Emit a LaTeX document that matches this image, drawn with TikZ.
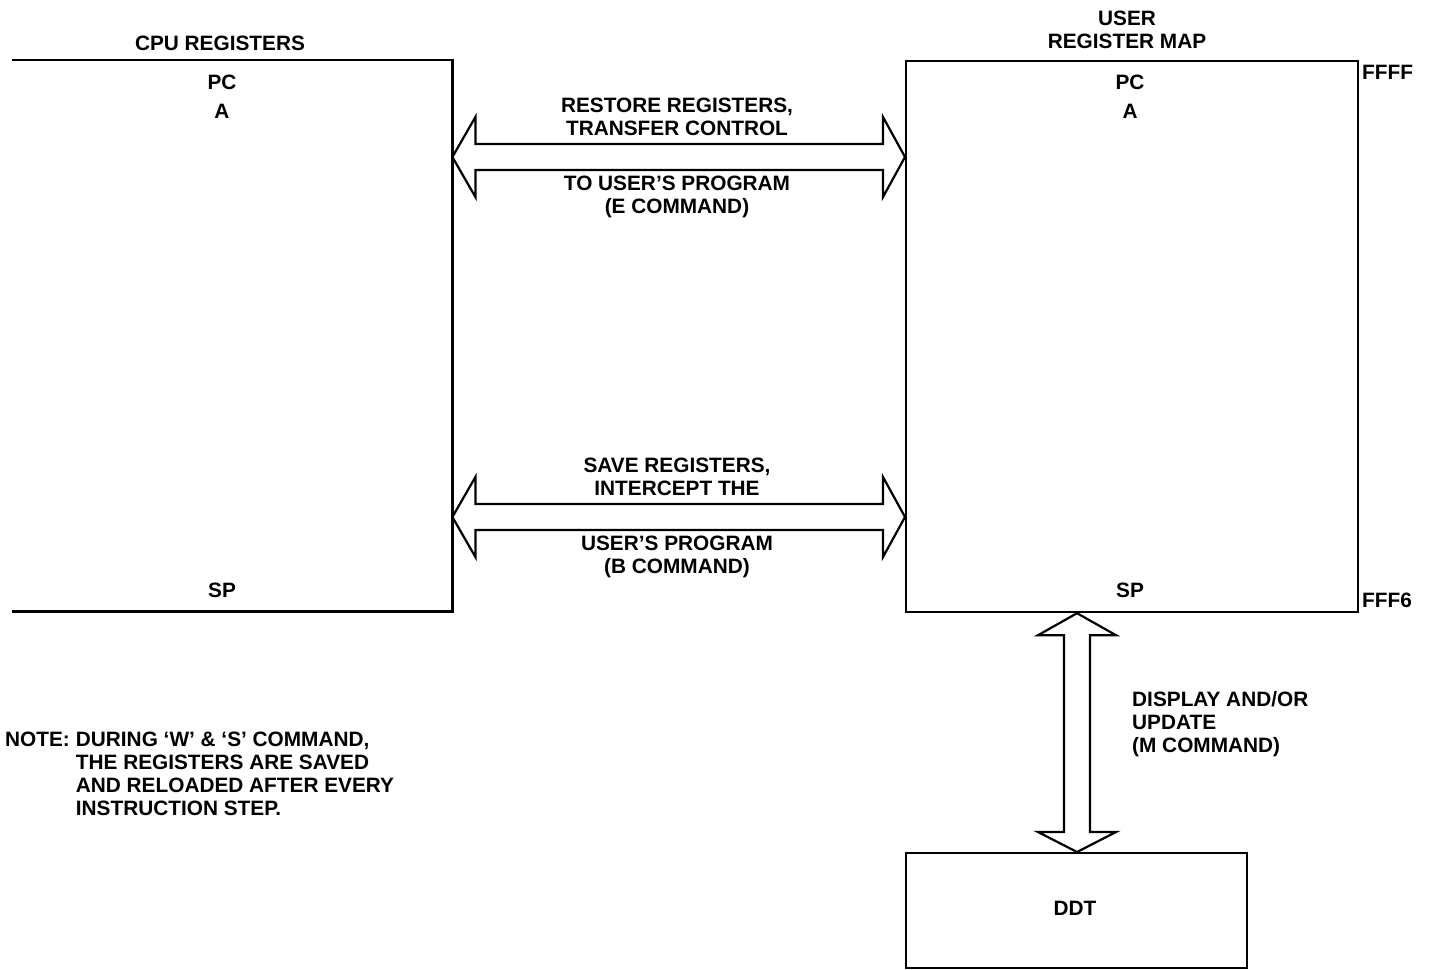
\documentclass[tikz,border=0pt]{standalone}
\usepackage{fontspec}
\setmainfont{Liberation Sans}
\usetikzlibrary{calc}
\newcommand\lblfont{\fontsize{20.8}{23}\selectfont\bfseries}
\tikzset{
  lbl/.style={font=\lblfont, align=center, inner sep=0pt},
  box/.style={draw=none, inner sep=0pt, anchor=north west},
  edge/.style={line width=2.2pt, line join=miter},
  fat/.style={line width=2.2pt, line join=miter, fill=white},
}
\begin{document}
\begin{tikzpicture}[x=1pt,y=-1pt]
\useasboundingbox (0,0) rectangle (1431,969);

% boxes
\node[box, minimum width=440pt, minimum height=551pt] (cpu) at (12,60) {};
\draw[edge] (cpu.north west) -- (cpu.north east) -- (cpu.south east) -- (cpu.south west);
\node[box, draw, edge, minimum width=452pt, minimum height=551pt] (usr) at (905,60) {};
\node[box, draw, edge, minimum width=341pt, minimum height=115pt] (ddt) at (905,852) {};

% titles and contents
\node[lbl] (cputitle) at (220,43) {CPU REGISTERS};
\node[lbl] (usrtitle) at (1127,30) {USER\\REGISTER MAP};
\node[lbl] (cpupc) at (222,82) {PC};
\node[lbl] (cpua) at (222,111) {A};
\node[lbl] (cpusp) at (222,590) {SP};
\node[lbl] (usrpc) at (1130,82) {PC};
\node[lbl] (usra) at (1130,111) {A};
\node[lbl] (usrsp) at (1130,590) {SP};
\node[lbl, anchor=west] (ffff) at (1362,72) {FFFF};
\node[lbl, anchor=west] (fff6) at (1362,600) {FFF6};
\node[lbl] (ddtlbl) at (1075,908) {DDT};

% horizontal fat arrows
\coordinate (y1) at (0,157);
\coordinate (y2) at (0,517);
\foreach \yy/\nm in {y1/a, y2/b}{
  \coordinate (L\nm) at (cpu.east |- \yy);
  \coordinate (R\nm) at (usr.west |- \yy);
  \draw[fat] (L\nm) -- ($(L\nm)+(23,-40)$) -- ($(L\nm)+(23,-13)$) -- ($(R\nm)+(-22,-13)$)
    -- ($(R\nm)+(-22,-40)$) -- (R\nm) -- ($(R\nm)+(-22,40)$) -- ($(R\nm)+(-22,13)$)
    -- ($(L\nm)+(23,13)$) -- ($(L\nm)+(23,40)$) -- cycle;
}
\node[lbl] (t1) at (677,117) {RESTORE REGISTERS,\\TRANSFER CONTROL};
\node[lbl] (t2) at (677,197) {TO USER’S PROGRAM\\(E COMMAND)};
\node[lbl] (t3) at (677,477) {SAVE REGISTERS,\\INTERCEPT THE};
\node[lbl] (t4) at (677,557) {USER’S PROGRAM\\(B COMMAND)};

% vertical fat arrow
\coordinate (x1) at (1077,0);
\coordinate (T) at (usr.south -| x1);
\coordinate (B) at (ddt.north -| x1);
\draw[fat] (T) -- ($(T)+(-39,22)$) -- ($(T)+(-13,22)$) -- ($(B)+(-13,-20)$) -- ($(B)+(-39,-20)$)
  -- (B) -- ($(B)+(39,-20)$) -- ($(B)+(13,-20)$) -- ($(T)+(13,22)$) -- ($(T)+(39,22)$) -- cycle;
\node[lbl, anchor=west, align=left] (t5) at (1132,724) {DISPLAY AND/OR\\UPDATE\\(M COMMAND)};

% note
\node[lbl, anchor=north west, align=left] (note) at (5,730)
  {\begin{tabular}{@{}l@{\hspace{6pt}}l@{}}
   NOTE: & DURING ‘W’ \& ‘S’ COMMAND,\\
         & THE REGISTERS ARE SAVED\\
         & AND RELOADED AFTER EVERY\\
         & INSTRUCTION STEP.
   \end{tabular}};
\end{tikzpicture}
\end{document}
